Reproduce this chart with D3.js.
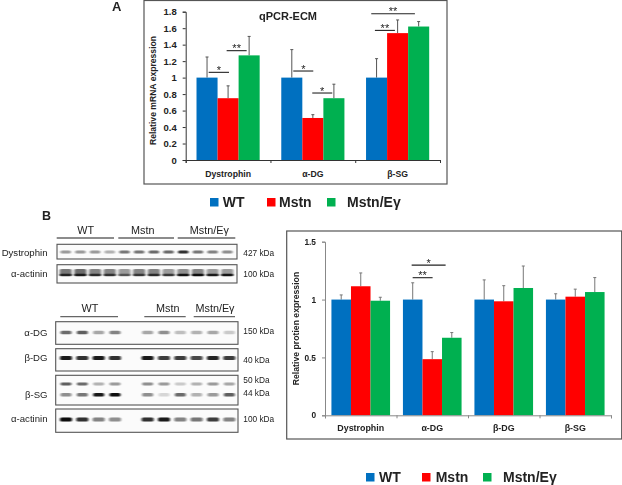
<!DOCTYPE html>
<html><head><meta charset="utf-8">
<script src="https://cdn.jsdelivr.net/npm/d3@7"></script>
<style>html,body{margin:0;padding:0;background:#fff}svg{display:block;filter:blur(0.35px)}text{font-family:"Liberation Sans",Arial,sans-serif;fill:#222}</style>
</head><body><svg id="c" width="622" height="485"></svg>
<script>
const seriesNames = ["WT","Mstn","Mstn/Eγ"];
const seriesColors = ["#0070C0","#FF0000","#00B050"];

const catsA = ["Dystrophin","α-DG","β-SG"];
const wtA = [1,1,1];
const mstnA = [0.75,0.51,1.54];
const eyA = [1.27,0.75,1.62];
const wtATop = [1.25,1.34,1.23];
const mstnATop = [0.9,0.55,1.7];
const eyATop = [1.5,0.92,1.68];
const ticksA = [0,0.2,0.4,0.6,0.8,1,1.2,1.4,1.6,1.8];
const sigA = [[0.271,0.511,1.064,"*"],[0.483,0.719,1.327,"**"],[1.269,1.505,1.08,"*"],[1.493,1.729,0.813,"*"],[2.232,2.468,1.573,"**"],[2.189,2.704,1.776,"**"]];

const catsB = ["Dystrophin","α-DG","β-DG","β-SG"];
const wtB = [1,1,1,1];
const mstnB = [1.115,0.485,0.985,1.025];
const eyB = [0.99,0.67,1.1,1.065];
const wtBTop = [1.04,1.145,1.17,1.05];
const mstnBTop = [1.23,0.55,1.12,1.09];
const eyBTop = [1.02,0.715,1.29,1.19];
const ticksB = [0,0.5,1,1.5];
const sigB = [[1.226,1.505,1.189,"**"],[1.212,1.687,1.298,"*"]];

// western blot band intensities, per lane
const dystrophinBand = [.4,.4,.4,.3,.55,.55,.6,.6,.85,.55,.5,.45];
const actininTopHalo = [.55,.6,.5,.5,.4,.5,.5,.4,.45,.5,.4,.4];
const actininTopBand = [.8,.85,.75,.7,.5,.65,.75,.7,.95,1,.9,.95];
const aDGBand = [.6,.65,.35,.5,.35,.45,.25,.3,.35,.2];
const bDGBand = [.95,.85,.95,.85,.95,.8,.8,.75,.9,.8];
const bSG50Band = [.65,.6,.3,.4,.45,.4,.2,.3,.4,.35];
const bSG44Band = [.45,.55,.95,1,.45,.15,.6,.3,.4,.65];
const actininLowBand = [1,.85,.5,.45,.85,.95,.5,.55,.8,.5];
const lanesLow = [0,1,2,3,5,6,7,8,9,10];

const svg = d3.select("#c");

function chart(o){
  const g = svg.append("g");
  g.append("rect").attr("x",o.frame[0]).attr("y",o.frame[1]).attr("width",o.frame[2]).attr("height",o.frame[3])
    .attr("fill","#fff").attr("stroke","#555").attr("stroke-width",1.2);
  const y = d3.scaleLinear().domain(o.yDomain).range(o.yRange);
  const x = d3.scaleBand().domain(o.cats).range(o.xRange).paddingInner(o.pad).paddingOuter(o.pad/2);
  const xs = d3.scaleBand().domain(d3.range(3)).range([0,x.bandwidth()]);
  const xu = d3.scaleLinear().domain([0,o.cats.length]).range(o.xRange);
  o.vals.forEach((vals,s)=>{
    const cx = (c)=>x(c)+xs(s);
    g.selectAll(null).data(o.cats).join("line")
      .attr("x1",c=>cx(c)+xs.bandwidth()/2).attr("x2",c=>cx(c)+xs.bandwidth()/2)
      .attr("y1",(c,i)=>y(vals[i])).attr("y2",(c,i)=>y(o.tops[s][i]))
      .attr("stroke",o.errColor).attr("stroke-width",1);
    g.selectAll(null).data(o.cats).join("line")
      .attr("x1",c=>cx(c)+xs.bandwidth()/2-1.5).attr("x2",c=>cx(c)+xs.bandwidth()/2+1.5)
      .attr("y1",(c,i)=>y(o.tops[s][i])).attr("y2",(c,i)=>y(o.tops[s][i]))
      .attr("stroke",o.errColor).attr("stroke-width",1);
    g.selectAll(null).data(o.cats).join("rect")
      .attr("x",cx).attr("width",xs.bandwidth())
      .attr("y",(c,i)=>y(vals[i])).attr("height",(c,i)=>y(0)-y(vals[i]))
      .attr("fill",seriesColors[s]);
  });
  const ay = g.append("g").attr("transform",`translate(${o.xRange[0]},0)`)
    .call(d3.axisLeft(y).tickValues(o.ticks).tickFormat(d=>String(d)).tickSize(3).tickPadding(6));
  ay.selectAll("text").style("font-size",o.tickFont+"px").style("font-weight","bold");
  ay.selectAll("line,path").attr("stroke",o.axisColor);
  const ax = g.append("g").attr("transform",`translate(0,${y(0)})`)
    .call(d3.axisBottom(xu).tickValues(d3.range(o.cats.length+1)).tickFormat("").tickSize(3));
  ax.selectAll("line,path").attr("stroke",o.axisColor);
  g.selectAll(null).data(o.cats).join("text")
    .attr("x",c=>x(c)+x.bandwidth()/2).attr("y",y(0)+o.catDy).attr("text-anchor","middle")
    .style("font-size",o.catFont+"px").style("font-weight","bold").text(c=>c);
  g.append("text").attr("transform",`translate(${o.yTitleX},${o.yTitleY}) rotate(-90)`).attr("text-anchor","middle")
    .style("font-size",o.yTitleFont+"px").style("font-weight","bold").text(o.yTitle);
  o.sig.forEach(d=>{
    g.append("line").attr("x1",xu(d[0])).attr("x2",xu(d[1])).attr("y1",y(d[2])).attr("y2",y(d[2])).attr("stroke","#222").attr("stroke-width",1.1);
    g.append("text").attr("x",(xu(d[0])+xu(d[1]))/2).attr("y",y(d[2])+1.5).attr("text-anchor","middle").style("font-size","11px").text(d[3]);
  });
  return g;
}

const gA = chart({frame:[144,0.5,303,183.5],yDomain:[0,1.8],yRange:[160,11.7],xRange:[185.7,440],pad:0.255,cats:catsA,
  vals:[wtA,mstnA,eyA],tops:[wtATop,mstnATop,eyATop],ticks:ticksA,tickFont:9.5,catFont:8.7,catDy:16.7,
  yTitle:"Relative mRNA expression",yTitleX:155.5,yTitleY:90.5,yTitleFont:8.6,sig:sigA,errColor:"#555",axisColor:"#333"});
gA.append("text").attr("x",288).attr("y",20).attr("text-anchor","middle").style("font-size","11px").style("font-weight","bold").text("qPCR-ECM");

chart({frame:[286.7,231,335,208],yDomain:[0,1.5],yRange:[415.3,241.7],xRange:[325,611],pad:0.18,cats:catsB,
  vals:[wtB,mstnB,eyB],tops:[wtBTop,mstnBTop,eyBTop],ticks:ticksB,tickFont:8.3,catFont:8.9,catDy:15.7,
  yTitle:"Relative protien expression",yTitleX:299,yTitleY:328.5,yTitleFont:8.7,sig:sigB,errColor:"#777",axisColor:"#888"});

svg.append("text").attr("x",112).attr("y",11).style("font-size","13px").style("font-weight","bold").text("A");
svg.append("text").attr("x",42).attr("y",220).style("font-size","12.5px").style("font-weight","bold").text("B");

function legend(yTop,sq,tx){
  seriesNames.forEach((n,i)=>{
    svg.append("rect").attr("x",sq[i]).attr("y",yTop).attr("width",8.5).attr("height",8.5).attr("fill",seriesColors[i]);
    svg.append("text").attr("x",tx[i]).attr("y",yTop+9).style("font-size","14px").style("font-weight","bold").text(n);
  });
}
legend(198,[210,267,327],[222.7,279,347]);
legend(473,[366,422,483],[379,435.7,503]);

// blots
const defs = svg.append("defs");
defs.append("filter").attr("id","bl").attr("x","-30%").attr("y","-80%").attr("width","160%").attr("height","260%")
  .append("feGaussianBlur").attr("stdDeviation","0.9 0.7");
function blot(box,rows,laneScale,lanes,bw){
  const g = svg.append("g");
  g.append("rect").attr("x",box[0]).attr("y",box[1]).attr("width",box[2]).attr("height",box[3]).attr("fill","#fbfbfb").attr("stroke","#555").attr("stroke-width",1.1);
  rows.forEach(r=>{
    g.selectAll(null).data(r.vals).join("rect")
      .attr("x",(d,i)=>laneScale(lanes[i])-bw/2).attr("width",bw)
      .attr("y",r.y-r.h/2).attr("height",r.h).attr("rx",1.5)
      .attr("fill","#0c0c0c").attr("opacity",d=>d).attr("filter","url(#bl)");
  });
}
const laneTop = d3.scaleLinear().domain([0,11]).range([65.7,227.3]);
const laneLow = d3.scaleLinear().domain([0,10]).range([66,229.3]);
const l12 = d3.range(12);
blot([57,244.3,180,14.7],[{vals:dystrophinBand,y:252,h:3}],laneTop,l12,10.5);
blot([57,264.7,180,18.3],[{vals:actininTopHalo,y:272.5,h:7},{vals:actininTopBand,y:275,h:2.5}],laneTop,l12,12);
blot([55.7,321.7,182.3,22.6],[{vals:aDGBand,y:332.5,h:3.6}],laneLow,lanesLow,11);
blot([55.7,348.7,182.3,22.3],[{vals:bDGBand,y:358,h:4}],laneLow,lanesLow,12);
blot([55.7,375.3,182.3,29.7],[{vals:bSG50Band,y:384,h:2.8},{vals:bSG44Band,y:394.7,h:3.6}],laneLow,lanesLow,11);
blot([55.7,409,182.3,23.3],[{vals:actininLowBand,y:419.5,h:4}],laneLow,lanesLow,12);

function hdr(yLine,yText,segs){
  segs.forEach(s=>{
    svg.append("line").attr("x1",s[0]).attr("x2",s[1]).attr("y1",yLine).attr("y2",yLine).attr("stroke","#666").attr("stroke-width",1.3);
    svg.append("text").attr("x",s[2]).attr("y",yText).attr("text-anchor","middle").style("font-size","10.8px").text(s[3]);
  });
}
hdr(238,234.3,[[56.7,114,85.7,"WT"],[118.3,174,142.7,"Mstn"],[177.7,235.3,209.3,"Mstn/Eγ"]]);
hdr(316.7,312.3,[[60.3,118,90,"WT"],[144.3,185.7,167.7,"Mstn"],[193.7,235,215,"Mstn/Eγ"]]);

[["Dystrophin",255.7],["α-actinin",276.7],["α-DG",335.7],["β-DG",361],["β-SG",397.7],["α-actinin",422.3]].forEach(d=>{
  svg.append("text").attr("x",47.5).attr("y",d[1]).attr("text-anchor","end").style("font-size","9.6px").text(d[0]);
});
[["427 kDa",256.3],["100 kDa",277],["150 kDa",334.3],["40 kDa",362.7],["50 kDa",383],["44 kDa",396],["100 kDa",422.3]].forEach(d=>{
  svg.append("text").attr("x",243.3).attr("y",d[1]).style("font-size","8.3px").text(d[0]);
});
</script></body></html>
